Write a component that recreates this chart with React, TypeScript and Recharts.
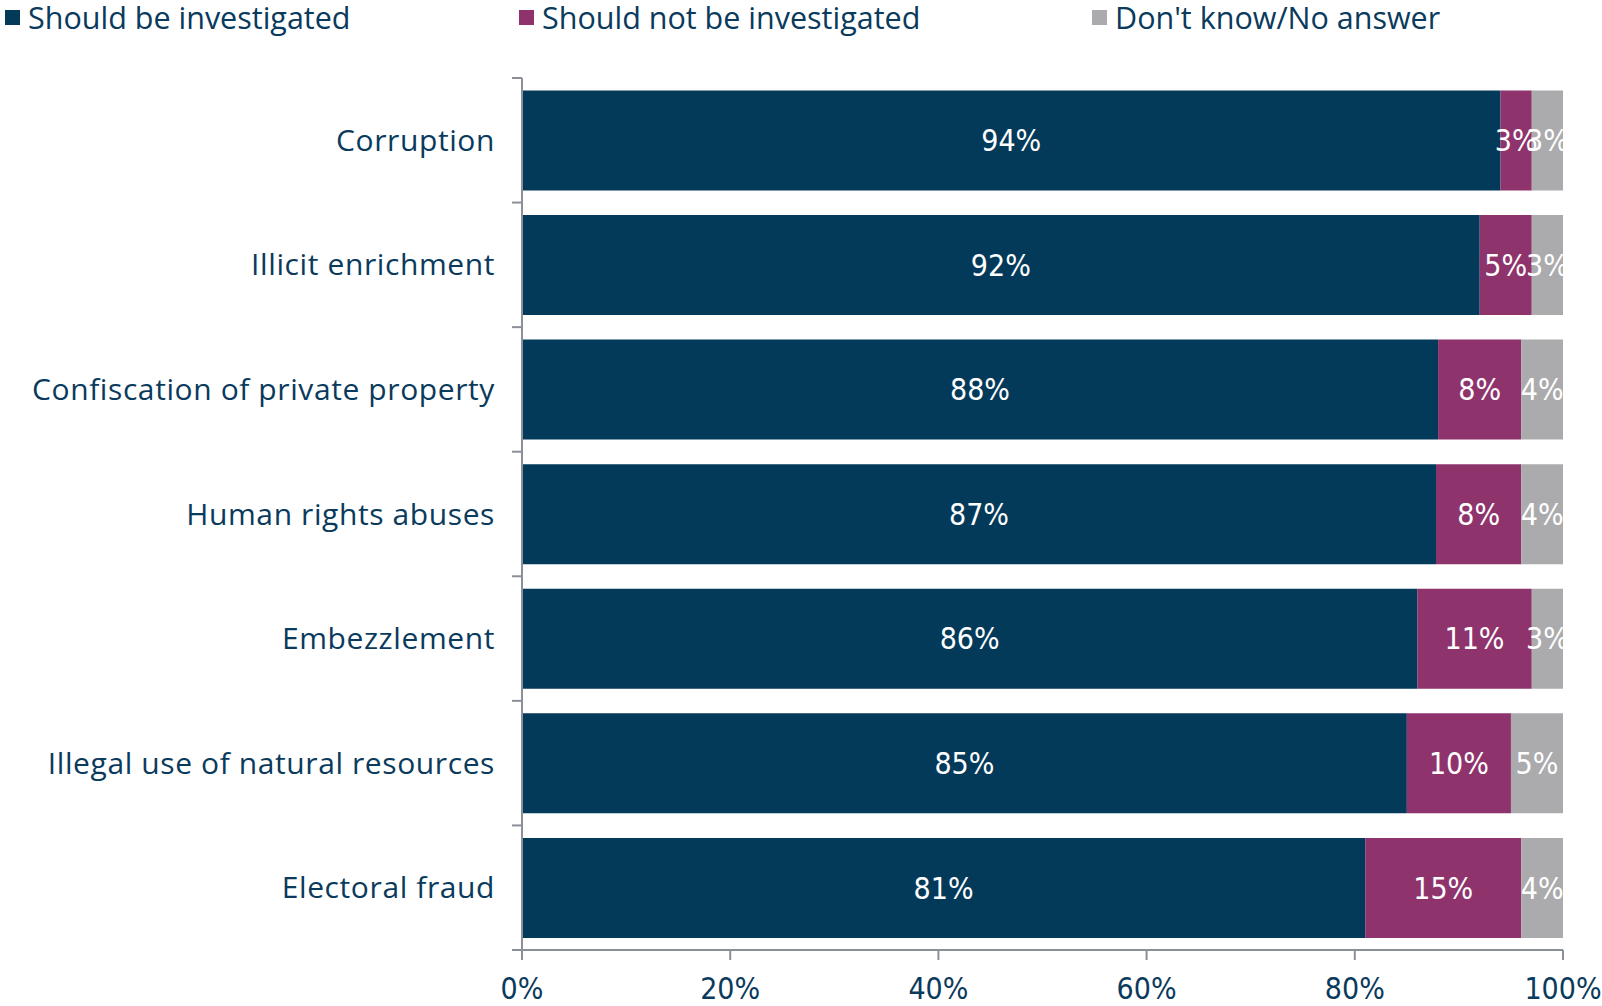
import React from "react";
import {
  BarChart,
  Bar,
  XAxis,
  YAxis,
  LabelList,
} from "recharts";

// categories, top to bottom
const categories = [
  "Corruption",
  "Illicit enrichment",
  "Confiscation of private property",
  "Human rights abuses",
  "Embezzlement",
  "Illegal use of natural resources",
  "Electoral fraud",
];

const investigated = [94, 92, 88, 87.8, 86, 85, 81];
const notInvestigated = [3, 5, 8, 8.2, 11, 10, 15];
const dontKnow = [3, 3, 4, 4, 3, 5, 4];

const xTicks = [0, 20, 40, 60, 80, 100];

const series = [
  { key: "yes", name: "Should be investigated", color: "#033A5A" },
  { key: "no", name: "Should not be investigated", color: "#8E336C" },
  { key: "dk", name: "Don't know/No answer", color: "#ABABAD" },
];

const data = categories.map((name, i) => ({
  name,
  yes: investigated[i],
  no: notInvestigated[i],
  dk: dontKnow[i],
}));

const TEXT = "#0A3A5C";
const AXIS = "#8A8F99";
const LABEL_FONT = "'Open Sans', 'Liberation Sans', sans-serif";
const NUM_FONT = "'Liberation Sans Narrow', 'DejaVu Sans Condensed', 'Liberation Sans', sans-serif";
const CAT_MARGIN = 27;

// source labels look truncated, not rounded
const pct = (v: number) => `${Math.floor(v + 1e-9)}%`;

function TopLegend() {
  const widths = [514, 573, undefined];
  return (
    <div
      style={{
        position: "absolute",
        top: 0,
        left: 5,
        display: "flex",
        fontFamily: LABEL_FONT,
        fontSize: 30.5,
        lineHeight: "34px",
        color: TEXT,
        whiteSpace: "nowrap",
      }}
    >
      {series.map((s, i) => (
        <div key={s.key} style={{ width: widths[i], display: "flex", alignItems: "center" }}>
          <span style={{ width: 15, height: 15, background: s.color, marginRight: 8, display: "inline-block" }} />
          <span>{s.name}</span>
        </div>
      ))}
    </div>
  );
}

// category label + the boundary tick marks between bands
function CatTick(props: any) {
  const { x, y, payload, index, visibleTicksCount } = props;
  const half = payload?.offset ?? 0;
  const ax = x + CAT_MARGIN;
  return (
    <g>
      <text
        x={x}
        y={y}
        dy="0.35em"
        textAnchor="end"
        fill={TEXT}
        fontSize={30}
        fontFamily={LABEL_FONT}
        letterSpacing={0.6}
      >
        {payload.value}
      </text>
      {index === 0 && (
        <line x1={ax - 10} x2={ax} y1={y - half} y2={y - half} stroke={AXIS} strokeWidth={2} />
      )}
      {index < visibleTicksCount && (
        <line x1={ax - 10} x2={ax} y1={y + half} y2={y + half} stroke={AXIS} strokeWidth={2} />
      )}
    </g>
  );
}

export default function App() {
  return (
    <div style={{ position: "relative", width: 1602, height: 1006, background: "#fff" }}>
      <style>{"body{margin:0}"}</style>
      <TopLegend />
      <BarChart
        width={1602}
        height={1006}
        data={data}
        layout="vertical"
        margin={{ top: 78, right: 39, left: 0, bottom: 0 }}
        barCategoryGap="10%"
      >
        <YAxis
          type="category"
          dataKey="name"
          width={522}
          axisLine={{ stroke: AXIS, strokeWidth: 2 }}
          tickLine={false}
          tickSize={0}
          tickMargin={CAT_MARGIN}
          interval={0}
          tick={<CatTick />}
        />
        <XAxis
          type="number"
          domain={[0, 100]}
          ticks={xTicks}
          tickFormatter={(v: number) => `${v}%`}
          height={56}
          tickSize={10}
          tickMargin={18}
          axisLine={{ stroke: AXIS, strokeWidth: 2 }}
          tickLine={{ stroke: AXIS, strokeWidth: 2 }}
          tick={{ fill: TEXT, fontSize: 30, fontFamily: NUM_FONT }}
        />
        {series.map((s) => (
          <Bar
            key={s.key}
            dataKey={s.key}
            name={s.name}
            stackId="a"
            fill={s.color}
            isAnimationActive={false}
          >
            <LabelList
              dataKey={s.key}
              position="center"
              formatter={(v: number) => pct(v)}
              fill="#ffffff"
              style={{ fontSize: 30, fontFamily: NUM_FONT }}
            />
          </Bar>
        ))}
      </BarChart>
    </div>
  );
}
